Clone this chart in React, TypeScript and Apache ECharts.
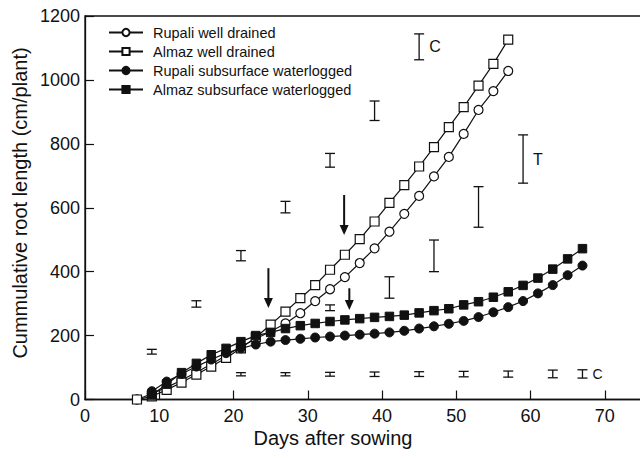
import React, { useEffect, useRef } from "react";
import * as echarts from "echarts";

const wdDays = [7, 9, 11, 13, 15, 17, 19, 21, 23, 25, 27, 29, 31, 33, 35, 37, 39, 41, 43, 45, 47, 49, 51, 53, 55, 57];
const rupaliWD = [0, 18, 38, 60, 85, 110, 138, 165, 190, 213, 238, 270, 308, 345, 383, 427, 473, 525, 581, 637, 698, 759, 831, 906, 965, 1028];
const almazWD = [0, 10, 30, 53, 78, 103, 130, 160, 195, 234, 275, 317, 358, 406, 453, 502, 557, 615, 671, 729, 790, 852, 915, 982, 1050, 1126];

const wlDays = [9, 11, 13, 15, 17, 19, 21, 23, 25, 27, 29, 31, 33, 35, 37, 39, 41, 43, 45, 47, 49, 51, 53, 55, 57, 59, 61, 63, 65, 67];
const rupaliSW = [26, 56, 80, 103, 125, 145, 160, 172, 181, 186, 190, 194, 197, 200, 203, 206, 210, 215, 222, 229, 237, 246, 258, 273, 289, 308, 332, 358, 389, 419];
const almazSW = [14, 48, 84, 113, 140, 160, 181, 200, 210, 222, 231, 238, 244, 249, 253, 257, 260, 264, 271, 278, 284, 296, 306, 320, 337, 357, 380, 408, 440, 472];

// error bars (LSD)
const ebUpperDays = [9, 15, 21, 27, 33, 39, 45];
const ebUpperLow = [142, 289, 434, 584, 727, 873, 1063];
const ebUpperHigh = [157, 309, 466, 620, 770, 934, 1144];
const ebMidDays = [33, 41, 47, 53, 59];
const ebMidLow = [278, 317, 400, 539, 677];
const ebMidHigh = [296, 384, 499, 666, 828];
const ebLowDays = [21, 27, 33, 39, 45, 51, 57, 63, 67];
const ebLowLow = [74, 74, 73, 72, 72, 71, 70, 68, 67];
const ebLowHigh = [84, 84, 85, 86, 87, 88, 89, 92, 93];
const ebUpperLabels = ["", "", "", "", "", "", "C"];
const ebMidLabels = ["", "", "", "", "T"];
const ebLowLabels = ["", "", "", "", "", "", "", "", "C"];

// arrows
const arrowDays = [24.7, 34.9, 35.6];
const arrowFrom = [411, 640, 348];
const arrowTo = [286, 515, 280];

const legendNames = [
  "Rupali well drained",
  "Almaz well drained",
  "Rupali subsurface waterlogged",
  "Almaz subsurface waterlogged",
];

const FONT = "'Liberation Sans', Arial, Helvetica, sans-serif";
const INK = "#111";

function zip(xs: number[], ys: number[]) {
  return xs.map((x, i) => [x, ys[i]]);
}

function errorSeries(days: number[], lo: number[], hi: number[], labels: string[], labelSize: number) {
  return {
    type: "custom",
    silent: true,
    clip: false,
    z: 5,
    encode: { x: 0, y: [1, 2] },
    data: days.map((d, i) => [d, lo[i], hi[i]]),
    renderItem: (params: any, api: any) => {
      const x = api.value(0);
      const pLo = api.coord([x, api.value(1)]);
      const pHi = api.coord([x, api.value(2)]);
      const cap = 5;
      const st = { stroke: INK, lineWidth: 1.3 };
      const children: any[] = [
        { type: "line", shape: { x1: pLo[0], y1: pLo[1], x2: pHi[0], y2: pHi[1] }, style: st },
        { type: "line", shape: { x1: pLo[0] - cap, y1: pLo[1], x2: pLo[0] + cap, y2: pLo[1] }, style: st },
        { type: "line", shape: { x1: pHi[0] - cap, y1: pHi[1], x2: pHi[0] + cap, y2: pHi[1] }, style: st },
      ];
      const lab = labels[params.dataIndex];
      if (lab) {
        children.push({
          type: "text",
          x: pLo[0] + 10,
          y: (pLo[1] + pHi[1]) / 2,
          style: {
            text: lab,
            fill: INK,
            font: `${labelSize}px ${FONT}`,
            textAlign: "left",
            textVerticalAlign: "middle",
          },
        });
      }
      return { type: "group", children };
    },
  };
}

export default function App() {
  const ref = useRef<HTMLDivElement>(null);
  useEffect(() => {
    document.body.style.margin = "0";
    if (!ref.current) return;
    const chart = echarts.init(ref.current, undefined, { renderer: "svg" });
    const lineCommon = {
      type: "line",
      symbolSize: 9,
      lineStyle: { color: INK, width: 1.2 },
      z: 3,
    };
    chart.setOption({
      animation: false,
      backgroundColor: "#fff",
      textStyle: { fontFamily: FONT },
      grid: {
        left: 85,
        top: 16,
        width: 594,
        height: 383.5,
        show: true,
        borderColor: INK,
        borderWidth: 1.3,
        backgroundColor: "transparent",
        containLabel: false,
        outerBoundsMode: "none",
      },
      legend: {
        left: 108,
        top: 25,
        padding: 0,
        orient: "vertical",
        itemWidth: 34,
        itemHeight: 9,
        itemGap: 4,
        data: legendNames,
        textStyle: { fontSize: 14.5, color: INK, fontFamily: FONT, padding: [0, 0, 0, 5] },
        selectedMode: false,
      },
      xAxis: {
        type: "value",
        min: 0,
        max: 80,
        interval: 10,
        axisLine: { show: true, lineStyle: { color: INK, width: 1.3 } },
        axisTick: { show: true, inside: true, length: 9, lineStyle: { color: INK, width: 1.2 } },
        axisLabel: {
          fontSize: 18,
          color: INK,
          margin: 7,
          fontFamily: FONT,
          showMaxLabel: false,
          formatter: (v: number) => (v >= 80 ? "" : String(v)),
        },
        splitLine: { show: false },
      },
      yAxis: {
        type: "value",
        min: 0,
        max: 1200,
        interval: 200,
        axisLine: { show: true, lineStyle: { color: INK, width: 1.3 } },
        axisTick: { show: true, inside: true, length: 9, lineStyle: { color: INK, width: 1.2 } },
        axisLabel: { fontSize: 18, color: INK, margin: 5, fontFamily: FONT, formatter: (v: number) => String(v) },
        splitLine: { show: false },
      },
      graphic: [
        {
          type: "text",
          x: 20,
          y: 203,
          rotation: Math.PI / 2,
          style: {
            text: "Cummulative root length (cm/plant)",
            fill: INK,
            font: `20px ${FONT}`,
            textAlign: "center",
            textVerticalAlign: "middle",
          },
        },
        {
          type: "text",
          x: 333,
          y: 438,
          style: {
            text: "Days after sowing",
            fill: INK,
            font: `20px ${FONT}`,
            textAlign: "center",
            textVerticalAlign: "middle",
          },
        },
      ],
      series: [
        {
          ...lineCommon,
          name: legendNames[0],
          symbol: "circle",
          itemStyle: { color: "#fff", borderColor: INK, borderWidth: 1.2 },
          data: zip(wdDays, rupaliWD),
        },
        {
          ...lineCommon,
          name: legendNames[1],
          symbol: "rect",
          itemStyle: { color: "#fff", borderColor: INK, borderWidth: 1.2 },
          data: zip(wdDays, almazWD),
        },
        {
          ...lineCommon,
          name: legendNames[2],
          symbol: "circle",
          itemStyle: { color: INK, borderColor: INK, borderWidth: 1 },
          data: zip(wlDays, rupaliSW),
        },
        {
          ...lineCommon,
          name: legendNames[3],
          symbol: "rect",
          symbolSize: 8.5,
          itemStyle: { color: INK, borderColor: INK, borderWidth: 1 },
          data: zip(wlDays, almazSW),
        },
        errorSeries(ebUpperDays, ebUpperLow, ebUpperHigh, ebUpperLabels, 16),
        errorSeries(ebMidDays, ebMidLow, ebMidHigh, ebMidLabels, 16),
        errorSeries(ebLowDays, ebLowLow, ebLowHigh, ebLowLabels, 14),
        {
          type: "custom",
          silent: true,
          clip: false,
          z: 6,
          encode: { x: 0, y: [1, 2] },
          data: arrowDays.map((d, i) => [d, arrowFrom[i], arrowTo[i]]),
          renderItem: (params: any, api: any) => {
            const x = api.value(0);
            const p0 = api.coord([x, api.value(1)]);
            const p1 = api.coord([x, api.value(2)]);
            const headH = 10;
            const headW = 4.5;
            return {
              type: "group",
              children: [
                {
                  type: "line",
                  shape: { x1: p0[0], y1: p0[1], x2: p1[0], y2: p1[1] - headH + 1 },
                  style: { stroke: INK, lineWidth: 2 },
                },
                {
                  type: "polygon",
                  shape: {
                    points: [
                      [p1[0] - headW, p1[1] - headH],
                      [p1[0] + headW, p1[1] - headH],
                      [p1[0], p1[1]],
                    ],
                  },
                  style: { fill: INK },
                },
              ],
            };
          },
        },
      ],
    });
    return () => chart.dispose();
  }, []);
  return <div ref={ref} style={{ width: 640, height: 458, overflow: "hidden" }} />;
}
